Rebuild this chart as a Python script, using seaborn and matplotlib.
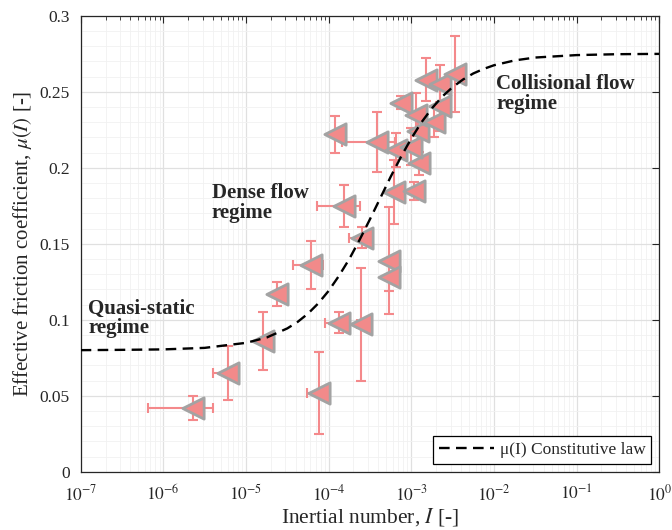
import numpy as np
import pandas as pd
import matplotlib
matplotlib.use("Agg")
import matplotlib.pyplot as plt
import seaborn as sns
from matplotlib.ticker import LogLocator, MultipleLocator, NullFormatter, FixedLocator, FixedFormatter

# ---------------- data ----------------
I_data = [2.3e-6, 6.0e-6, 1.6e-5, 2.4e-5, 6.1e-5, 7.7e-5, 1.33e-4, 2.45e-4, 1.55e-4,
          2.52e-4, 1.2e-4, 3.9e-4, 5.45e-4, 5.4e-4, 6.1e-4, 1.08e-3, 1.25e-3, 6.5e-4,
          9.8e-4, 1.2e-3, 7.45e-4, 1.13e-3, 1.89e-3, 2.24e-3, 1.51e-3, 2.24e-3, 3.4e-3]
mu_data = [0.042, 0.065, 0.086, 0.117, 0.136, 0.052, 0.098, 0.097, 0.175,
           0.154, 0.222, 0.217, 0.139, 0.128, 0.184, 0.185, 0.203, 0.2116,
           0.214, 0.224, 0.243, 0.235, 0.230, 0.241, 0.258, 0.2555, 0.262]
I_err = [1.65e-6, 2.0e-6, 0, 0, 2.4e-5, 2.2e-5, 4.3e-5, 2.5e-5, 8.2e-5,
         7.5e-5, 0, 2.45e-4, 0, 0, 0, 0, 0, 0,
         0, 0, 0, 0, 0, 0, 0, 0, 0]
mu_err = [0.008, 0.0175, 0.019, 0.008, 0.016, 0.027, 0.007, 0.037, 0.014,
          0.007, 0.0124, 0.0195, 0.035, 0.009, 0.021, 0.006, 0.0077, 0.011,
          0.012, 0.012, 0.004, 0.014, 0.010, 0.017, 0.014, 0.012, 0.025]

I_curve = [1e-7, 3.16e-7, 1e-6, 3.16e-6, 1e-5, 1.78e-5, 3.16e-5, 4.22e-5, 5.62e-5,
           7.5e-5, 1e-4, 1.33e-4, 1.78e-4, 2.37e-4, 3.16e-4, 4.22e-4, 5.62e-4,
           7.5e-4, 1e-3, 1.33e-3, 1.78e-3, 2.37e-3, 3.16e-3, 4.22e-3, 5.62e-3,
           7.5e-3, 1e-2, 1.78e-2, 3.16e-2, 1e-1, 3.16e-1, 1.0]
mu_curve = [0.0800, 0.0802, 0.0805, 0.0815, 0.0848, 0.0883, 0.0943, 0.0986, 0.1040,
            0.1108, 0.1190, 0.1288, 0.1400, 0.1526, 0.1661, 0.1801, 0.1940,
            0.2072, 0.2193, 0.2300, 0.2392, 0.2469, 0.2531, 0.2581, 0.2621,
            0.2651, 0.2675, 0.2707, 0.2726, 0.2742, 0.2748, 0.2750]

x_ticks = [1e-7, 1e-6, 1e-5, 1e-4, 1e-3, 1e-2, 1e-1, 1.0]
x_ticklabels = [r"$10^{-7}$", r"$10^{-6}$", r"$10^{-5}$", r"$10^{-4}$",
                r"$10^{-3}$", r"$10^{-2}$", r"$10^{-1}$", r"$10^{0}$"]
y_ticks = [0, 0.05, 0.1, 0.15, 0.2, 0.25, 0.3]
y_ticklabels = ["0", "0.05", "0.1", "0.15", "0.2", "0.25", "0.3"]

legend_label = "\u03bc(I) Constitutive law"
regime_labels = ["Quasi-static\nregime", "Dense flow\nregime", "Collisional flow\nregime"]
regime_pos = [(1.24e-7, 0.114), (3.86e-6, 0.190), (1.06e-2, 0.262)]

# ---------------- style ----------------
sns.set_style("white")
plt.rcParams["font.family"] = ["Liberation Serif", "DejaVu Serif"]
plt.rcParams["mathtext.fontset"] = "stix"

dark = "#262626"
fig = plt.figure(figsize=(6.72, 5.30), dpi=100)
ax = fig.add_axes([0.120, 0.110, 0.861, 0.860])
ax.set_xscale("log")

# error bars
ax.errorbar(I_data, mu_data, xerr=I_err, yerr=mu_err, fmt="none",
            ecolor="#F4898B", elinewidth=1.5, capsize=3.8, capthick=1.5, zorder=2)

# markers
sns.scatterplot(x=I_data, y=mu_data, marker="<", s=235, color="#F28A8A",
                edgecolor="#A3A3A3", linewidth=2.0, zorder=3, ax=ax, legend=False)

# constitutive law
curve = pd.DataFrame({"I": I_curve, "mu": mu_curve})
sns.lineplot(data=curve, x="I", y="mu", ax=ax, color="black", linewidth=1.7,
             linestyle=(0, (4.5, 2.7)), zorder=4, legend=False, sort=True,
             estimator=None)
line = ax.lines[-1]

ax.set_xlim(1e-7, 1)
ax.set_ylim(0, 0.3)

ax.xaxis.set_major_locator(FixedLocator(x_ticks))
ax.xaxis.set_major_formatter(FixedFormatter(x_ticklabels))
ax.xaxis.set_minor_locator(LogLocator(base=10, subs=np.arange(2, 10), numticks=100))
ax.xaxis.set_minor_formatter(NullFormatter())
ax.yaxis.set_major_locator(FixedLocator(y_ticks))
ax.yaxis.set_major_formatter(FixedFormatter(y_ticklabels))
ax.yaxis.set_minor_locator(MultipleLocator(0.01))

ax.grid(which="major", color="#E0E0E0", linewidth=0.9)
ax.grid(which="minor", color="#F1F1F1", linewidth=0.6)
ax.set_axisbelow(True)

ax.tick_params(which="both", direction="in", top=True, right=True, colors=dark)
ax.tick_params(which="major", length=5, width=0.8, labelsize=12.5)
ax.tick_params(axis="x", which="major", pad=9)
ax.tick_params(axis="y", which="major", pad=8)
ax.tick_params(axis="x", which="minor", length=3, width=0.6)
ax.tick_params(axis="y", which="minor", length=0)
for sp in ax.spines.values():
    sp.set_color(dark)
    sp.set_linewidth(0.9)

ax.set_xlabel("Inertial number, $I$ [-]", fontsize=15.5, color=dark, labelpad=1)
ax.set_ylabel(r"Effective friction coefficient, $\mu(I)$ [-]", fontsize=15,
              color=dark, labelpad=4)

for txt, (xx, yy) in zip(regime_labels, regime_pos):
    ax.text(xx, yy, txt, fontsize=15, fontweight="bold", color=dark,
            ha="left", va="top", linespacing=1.0, zorder=5)

leg = ax.legend(handles=[line], labels=[legend_label], loc="lower right",
                fontsize=12.5, frameon=True, fancybox=False, edgecolor="black",
                framealpha=1, handlelength=3.2, handletextpad=0.3,
                borderaxespad=0.45, borderpad=0.35)
leg.get_frame().set_linewidth(0.9)

fig.savefig("out.png", dpi=100)
